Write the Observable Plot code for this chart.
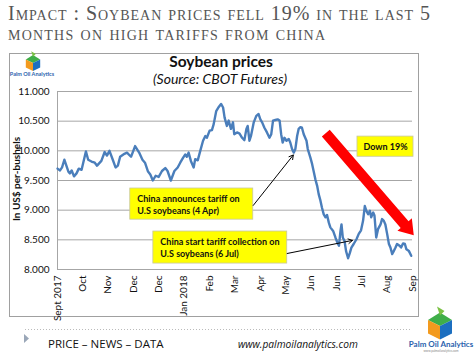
<!DOCTYPE html>
<html><head><meta charset="utf-8">
<script src="https://cdn.jsdelivr.net/npm/d3@7"></script>
<script src="https://cdn.jsdelivr.net/npm/@observablehq/plot@0.6"></script>
<style>
html,body{margin:0;padding:0;background:#fff;}
#chart svg{display:block;}
</style></head><body><div id="chart"></div>
<script>
// ---- data ----
const tickLabels = ["Sept 2017","Oct","Nov","Dec","Dec","Jan 2018","Feb","Mar","Apr","May","Jun","Jun","Jul","Aug","Sep"];
const yTicks = [8, 8.5, 9, 9.5, 10, 10.5, 11];
// position along the axis, in tick-label intervals
const t = [0,0.10,0.18,0.27,0.43,0.49,0.56,0.65,0.75,0.84,0.95,1.12,1.21,1.34,1.47,1.56,1.73,1.86,1.95,2.05,2.18,2.29,2.38,2.47,2.64,2.74,2.83,2.90,2.99,3.06,3.22,3.35,3.45,3.57,3.66,3.76,3.87,3.99,4.12,4.25,4.34,4.47,4.61,4.74,4.84,4.95,5.04,5.10,5.17,5.26,5.37,5.43,5.53,5.63,5.74,5.83,5.89,6.00,6.09,6.16,6.26,6.36,6.45,6.53,6.59,6.68,6.75,6.84,6.92,6.97,7.08,7.18,7.28,7.37,7.45,7.50,7.57,7.63,7.74,7.84,7.93,8.00,8.07,8.16,8.26,8.36,8.43,8.50,8.59,8.68,8.76,8.82,8.88,8.95,9.03,9.12,9.18,9.25,9.32,9.38,9.45,9.51,9.58,9.64,9.71,9.82,9.87,9.97,10.04,10.10,10.17,10.24,10.30,10.37,10.43,10.50,10.57,10.63,10.70,10.76,10.87,10.96,11.05,11.10,11.16,11.20,11.25,11.32,11.38,11.46,11.53,11.59,11.68,11.79,11.88,11.97,12.05,12.12,12.18,12.25,12.32,12.37,12.45,12.50,12.57,12.64,12.74,12.80,12.87,12.93,13.00,13.07,13.13,13.20,13.26,13.33,13.39,13.49,13.55,13.63,13.70,13.76,13.86,13.95];
const price = [9.70,9.67,9.72,9.85,9.65,9.62,9.67,9.57,9.62,9.70,9.68,9.99,9.85,9.82,9.80,9.75,9.83,9.98,9.92,10.00,9.85,9.72,9.75,9.90,9.95,9.97,9.93,9.90,10.00,10.08,9.97,9.85,9.80,9.65,9.60,9.50,9.58,9.56,9.66,9.71,9.66,9.50,9.66,9.72,9.80,9.88,9.94,9.90,9.97,9.83,9.72,9.86,9.84,10.00,10.17,10.25,10.22,10.34,10.35,10.45,10.67,10.74,10.79,10.73,10.56,10.42,10.51,10.37,10.48,10.28,10.31,10.29,10.22,10.18,10.37,10.42,10.17,10.25,10.48,10.59,10.62,10.53,10.48,10.39,10.31,10.22,10.28,10.51,10.52,10.53,10.51,10.28,10.14,10.22,10.17,10.20,10.14,10.03,9.97,10.03,10.25,10.37,10.40,10.39,10.28,10.17,10.03,9.89,9.78,9.66,9.52,9.41,9.27,9.16,9.04,8.93,8.88,8.92,8.79,8.71,8.65,8.54,8.44,8.40,8.65,8.76,8.54,8.48,8.31,8.19,8.28,8.37,8.43,8.51,8.60,8.66,8.82,9.07,8.99,8.93,8.99,8.88,8.96,8.91,8.54,8.68,8.76,8.85,8.82,8.76,8.60,8.43,8.37,8.26,8.31,8.37,8.43,8.40,8.37,8.44,8.43,8.34,8.31,8.23];

// annotations (in data space)
const noteText = ["China announces tariff on\nU.S soybeans (4 Apr)", "China start tariff collection on\nU.S soybeans (6 Jul)", "Down 19%"];
const noteX1 = [2.87, 3.78, 11.83];
const noteX2 = [7.72, 9.06, 14.04];
const noteY1 = [9.365, 8.64, 10.24];
const noteY2 = [8.84, 8.10, 9.90];
const pointerFrom = [[7.72, 9.08], [9.06, 8.27]];
const pointerTo = [[9.30, 9.93], [11.63, 8.49]];
const trendFrom = [10.6, 10.29];
const trendTo = [14.07, 8.57];

const rows = t.map((d, i) => ({t: d, price: price[i]}));
const notes = noteText.map((s, i) => ({text: s, x1: noteX1[i], x2: noteX2[i], y1: noteY1[i], y2: noteY2[i], center: i === 2}));
const pointers = pointerFrom.map((f, i) => ({x1: f[0], y1: f[1], x2: pointerTo[i][0], y2: pointerTo[i][1]}));

const W = 474, H = 355;
const plot = Plot.plot({
  width: W, height: H,
  marginLeft: 57, marginRight: 62, marginTop: 91, marginBottom: 86,
  style: {fontFamily: "Lato, sans-serif", background: "white", color: "#111"},
  x: {domain: [0, 14]},
  y: {domain: [8, 11]},
  marks: [
    Plot.gridY(yTicks, {stroke: "#a6a6a6", strokeOpacity: 1}),
    Plot.ruleX([0], {stroke: "#a6a6a6"}),
    Plot.axisY({ticks: yTicks, tickFormat: d3.format(".3f"), tickSize: 0, tickPadding: 8, fontSize: 10, label: null}),
    Plot.axisX({ticks: d3.range(15), tickFormat: i => tickLabels[i], tickRotate: -90, tickSize: 0, tickPadding: 6, fontSize: 10, label: null}),
    Plot.rect(notes, {x1: "x1", x2: "x2", y1: "y1", y2: "y2", fill: "#ffff00", stroke: "#c8c8a0", strokeWidth: 0.8}),
    Plot.text(notes.filter(d => !d.center), {x: "x1", y: d => (d.y1 + d.y2) / 2, text: "text", dx: 7, textAnchor: "start", lineAnchor: "middle", lineHeight: 1.3, fontSize: 9, fontWeight: "bold", fill: "#111"}),
    Plot.text(notes.filter(d => d.center), {x: d => (d.x1 + d.x2) / 2, y: d => (d.y1 + d.y2) / 2, text: "text", textAnchor: "middle", lineAnchor: "middle", fontSize: 9, fontWeight: "bold", fill: "#111"}),
    Plot.line(rows, {x: "t", y: "price", stroke: "#4a7ebb", strokeWidth: 2.4, curve: "linear"}),
    Plot.arrow(pointers, {x1: "x1", y1: "y1", x2: "x2", y2: "y2", stroke: "#000", strokeWidth: 1, headLength: 7})
  ]
});

const svg = d3.select(plot);
const sx = plot.scale("x"), sy = plot.scale("y");

// red trend arrow (endpoints through the plot's scales)
{
  const ax = sx.apply(trendFrom[0]), ay = sy.apply(trendFrom[1]);
  const bx = sx.apply(trendTo[0]), by = sy.apply(trendTo[1]);
  const dx = bx - ax, dy = by - ay, L = Math.hypot(dx, dy);
  const ux = dx / L, uy = dy / L, nx = -uy, ny = ux;
  const sw = 5.2, hw = 9.5, hl = 14;
  const hbx = bx - ux * hl, hby = by - uy * hl;
  const pts = [
    [ax + nx * sw, ay + ny * sw], [hbx + nx * sw, hby + ny * sw], [hbx + nx * hw, hby + ny * hw],
    [bx, by], [hbx - nx * hw, hby - ny * hw], [hbx - nx * sw, hby - ny * sw], [ax - nx * sw, ay - ny * sw]
  ];
  svg.append("polygon").attr("points", pts.map(p => p.join(",")).join(" ")).attr("fill", "#ff0000");
}

// frame around the chart
svg.insert("rect", ":first-child").attr("x", 9.5).attr("y", 53.5).attr("width", 409).attr("height", 263)
  .attr("fill", "none").attr("stroke", "#a0a0a0").attr("stroke-width", 1);

const deco = svg.append("g").attr("text-anchor", "start");

// y-axis label
deco.append("text").attr("transform", "translate(15.5,179) rotate(-90)").attr("text-anchor", "middle")
  .attr("dominant-baseline", "central")
  .attr("font-family", "Lato, sans-serif").attr("font-weight", "bold").attr("font-size", 10).attr("fill", "#111")
  .text("In US$ per-bushels");

// page title
const title = deco.append("g").attr("font-family", "'Liberation Serif', serif").attr("fill", "#555")
  .style("font-variant", "small-caps");
title.append("text").attr("x", 8).attr("y", 20).attr("font-size", 20).attr("textLength", 422).attr("lengthAdjust", "spacing")
  .text("Impact : Soybean prices fell 19% in the last 5");
title.append("text").attr("x", 8).attr("y", 40).attr("font-size", 20).attr("textLength", 317).attr("lengthAdjust", "spacing")
  .text("months on high tariffs from china");

// chart title + subtitle
deco.append("text").attr("x", 221).attr("y", 67).attr("text-anchor", "middle").attr("font-family", "Lato, sans-serif")
  .attr("font-weight", "bold").attr("font-size", 15.5).attr("fill", "#111").text("Soybean prices");
deco.append("text").attr("x", 220).attr("y", 84).attr("text-anchor", "middle").attr("font-family", "Lato, sans-serif")
  .attr("font-style", "italic").attr("font-size", 14).attr("fill", "#111").text("(Source: CBOT Futures)");

// logos
function logo(g, cx, cy, s) {
  g.append("polygon").attr("points", `${cx},${cy - 9*s} ${cx + 8*s},${cy - 4*s} ${cx},${cy} ${cx - 8*s},${cy - 4*s}`).attr("fill", "#3fae49");
  g.append("polygon").attr("points", `${cx - 8*s},${cy - 4*s} ${cx},${cy} ${cx},${cy + 9*s} ${cx - 8*s},${cy + 5*s}`).attr("fill", "#f39a1e");
  g.append("polygon").attr("points", `${cx + 8*s},${cy - 4*s} ${cx},${cy} ${cx},${cy + 9*s} ${cx + 8*s},${cy + 5*s}`).attr("fill", "#1c6fc0");
  g.append("polygon").attr("points", `${cx - 2*s},${cy - 13*s} ${cx + 3*s},${cy - 10*s} ${cx},${cy - 7*s}`).attr("fill", "#7ac143");
}
const lg1 = deco.append("g");
logo(lg1, 33, 63, 0.9);
lg1.append("text").attr("x", 32).attr("y", 76).attr("text-anchor", "middle").attr("font-family", "Lato, sans-serif")
  .attr("font-weight", "bold").attr("font-size", 5.5).attr("fill", "#2a62ad").text("Palm Oil Analytics");
const lg2 = deco.append("g");
logo(lg2, 440, 326, 1.5);
lg2.append("text").attr("x", 441).attr("y", 347).attr("text-anchor", "middle").attr("font-family", "Lato, sans-serif")
  .attr("font-weight", "bold").attr("font-size", 8).attr("fill", "#2a62ad").text("Palm Oil Analytics");
lg2.append("text").attr("x", 441).attr("y", 352).attr("text-anchor", "middle").attr("font-family", "Lato, sans-serif")
  .attr("font-size", 3).attr("fill", "#888").text("www.palmoilanalytics.com");

// footer
deco.append("line").attr("x1", 25).attr("x2", 410).attr("y1", 329.5).attr("y2", 329.5)
  .attr("stroke", "#bbb").attr("stroke-dasharray", "1,2");
deco.append("polygon").attr("points", "24,334 29,338.5 24,343").attr("fill", "#9aa7b8");
deco.append("text").attr("x", 48).attr("y", 348).attr("font-family", "'Open Sans', sans-serif").attr("font-size", 11.5)
  .attr("fill", "#111").text("PRICE – NEWS – DATA");
deco.append("text").attr("x", 238).attr("y", 348).attr("font-family", "'Open Sans', sans-serif").attr("font-style", "italic")
  .attr("font-size", 10.2).attr("fill", "#111").text("www.palmoilanalytics.com");

document.getElementById("chart").appendChild(plot);
</script></body></html>
